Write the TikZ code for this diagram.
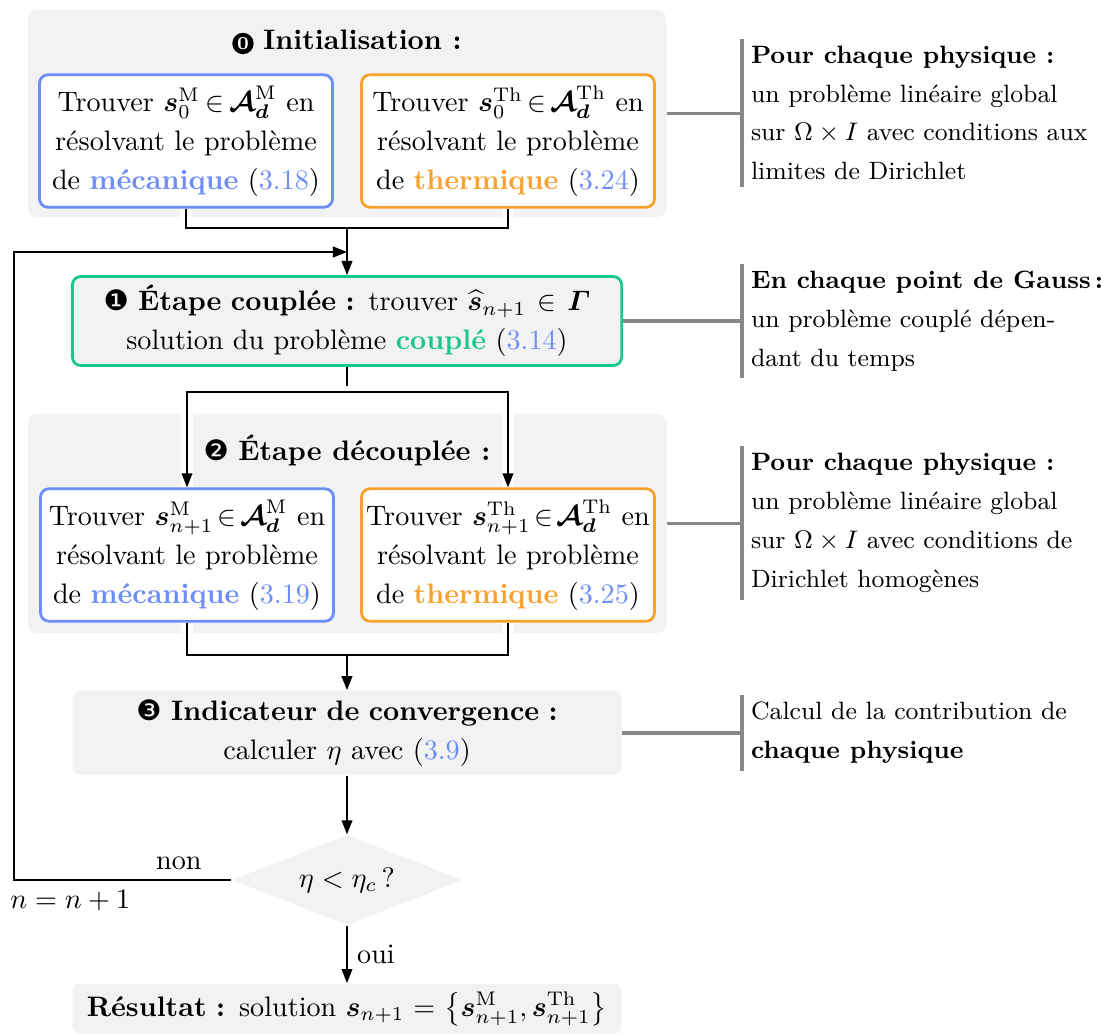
\documentclass[tikz,border=0pt]{standalone}
\usepackage{amsmath,bm}
\usepackage{fontspec}
\newfontfamily\dingfont{DejaVu Sans}
\usetikzlibrary{shapes.geometric, arrows, arrows.meta, positioning, fit}

\definecolor{mecablue}{HTML}{6E8EF7}
\definecolor{thermorange}{HTML}{F9A12E}
\definecolor{coupgreen}{HTML}{1BC78F}
\definecolor{bggray}{HTML}{F2F2F2}
\definecolor{notegray}{HTML}{888888}

\newcommand{\svec}{\bm{s}}
\newcommand{\Adm}{\bm{\mathcal{A}}_{\bm{d}}}
\newcommand{\inn}{\mkern-3mu\in\mkern-3mu}
\newcommand{\eqnum}[1]{(\textcolor{mecablue}{#1})}
\newcommand{\negzero}{\tikz[baseline=(zero.base)]\node[circle, fill=black, text=white,
  inner sep=0pt, minimum size=7.6pt, font=\fontsize{6.5}{6.5}\selectfont\bfseries] (zero) {0};}

\begin{document}
\begin{tikzpicture}[x=0.355pt, y=-0.355pt,
  panel/.style={fill=bggray, rounded corners=3pt, inner sep=0pt},
  task/.style={draw, line width=1pt, fill=white, rounded corners=3pt,
    minimum width=104pt, minimum height=47pt, text width=102pt, inner sep=0pt,
    align=center, font=\linespread{1.15}\selectfont},
  mecabox/.style={task, draw=mecablue},
  thermbox/.style={task, draw=thermorange},
  wide/.style={fill=bggray, rounded corners=3pt, minimum width=195pt, text width=190pt,
    inner sep=0pt, align=center, font=\linespread{1.15}\selectfont},
  note/.style={anchor=west, align=left, inner xsep=3pt, inner ysep=2.4pt,
    font=\fontsize{8.9pt}{13.8pt}\selectfont},
  bar/.style={draw=notegray, line width=1.4pt},
  link/.style={semithick},
  halo/.style={draw=white, line width=4pt},
  >={Triangle[length=5pt, width=3.8pt]}]

  \useasboundingbox (0,0) rectangle (1115,1034);

  % step 0
  \node[panel, fit={(28,10) (666,217)}] (init) {};
  \node (inittitle) at (347,42) {\negzero~\textbf{Initialisation :}};
  \node[mecabox] (meca0) at (186,141)
    {Trouver $\svec_0^{\mathrm{M}} \inn \Adm^{\mathrm{M}}$ en\\ résolvant le problème\\
     de \textbf{\textcolor{mecablue}{mécanique}} \eqnum{3.18}};
  \node[thermbox] (therm0) at (508,141)
    {Trouver $\svec_0^{\mathrm{Th}} \inn \Adm^{\mathrm{Th}}$ en\\ résolvant le problème\\
     de \textbf{\textcolor{thermorange}{thermique}} \eqnum{3.24}};
  \coordinate (join0) at (347,228);
  \coordinate (back) at (14,252);

  % step 1
  \node[wide, draw=coupgreen, line width=1pt, minimum height=31.6pt] (coupled) at (347,321)
    {{\dingfont ❶}~\textbf{Étape couplée :} trouver $\widehat{\svec}_{n+1} \in \bm{\varGamma}$\\
     solution du problème \textbf{\textcolor{coupgreen}{couplé}} \eqnum{3.14}};
  \coordinate (split) at (347,392);

  % step 2
  \node[panel, fit={(28,414) (666,633)}] (decoup) {};
  \node (decouptitle) at (347,450) {{\dingfont ❷}~\textbf{Étape découplée :}};
  \node[mecabox] (meca1) at (187,555)
    {Trouver $\svec_{n+1}^{\mathrm{M}} \inn \Adm^{\mathrm{M}}$ en\\ résolvant le problème\\
     de \textbf{\textcolor{mecablue}{mécanique}} \eqnum{3.19}};
  \node[thermbox] (therm1) at (508,555)
    {Trouver $\svec_{n+1}^{\mathrm{Th}} \inn \Adm^{\mathrm{Th}}$ en\\ résolvant le problème\\
     de \textbf{\textcolor{thermorange}{thermique}} \eqnum{3.25}};
  \coordinate (join1) at (347,655);

  % step 3
  \node[wide, minimum height=30pt] (indic) at (347,733)
    {{\dingfont ❸}~\textbf{Indicateur de convergence :}\\ calculer $\eta$ avec \eqnum{3.9}};
  \node[diamond, aspect=2.6, fill=bggray, minimum width=82pt, minimum height=32pt, inner sep=0pt]
    (test) at (347,880) {$\eta < \eta_c\,?$};
  \node[wide, minimum height=18pt] (result) at (347,1009)
    {\textbf{Résultat :} solution $\svec_{n+1} = \bigl\{\svec_{n+1}^{\mathrm{M}}, \svec_{n+1}^{\mathrm{Th}}\bigr\}$};

  % notes
  \node[note] (note0) at (742,113)
    {\textbf{Pour chaque physique :}\\ un problème linéaire global\\
     sur $\Omega \times I$ avec conditions aux\\ limites de Dirichlet};
  \node[note] (note1) at (742,321)
    {\textbf{En chaque point de Gauss\,:}\\ un problème couplé dépen-\\ dant du temps};
  \node[note] (note2) at (742,523)
    {\textbf{Pour chaque physique :}\\ un problème linéaire global\\
     sur $\Omega \times I$ avec conditions de\\ Dirichlet homogènes};
  \node[note] (note3) at (742,733)
    {Calcul de la contribution de\\ \textbf{chaque physique}};

  \foreach \nt/\src in {note0/init, note1/coupled, note2/decoup, note3/indic}{
    \draw[bar] (\nt.north west) -- (\nt.south west);
    \draw[bar] (\src.east) -- (\src.east -| \nt.west);
  }

  % connectors
  \draw[halo] (meca0.south) |- (join0) -| (therm0.south);
  \draw[link] (meca0.south) |- (join0) -| (therm0.south);
  \draw[link, ->] (join0) -- (coupled.north);
  \draw[link, ->] (test.west) -| (back)
    node[pos=.12, above] (non) {non}
    node[pos=.37, below] (incr) {$n = n+1$}
    -- (back -| join0);
  \draw[link] (coupled.south) -- (split);
  \draw[halo] (split) -| (meca1.north);
  \draw[halo] (split) -| (therm1.north);
  \draw[link, ->] (split) -| (meca1.north);
  \draw[link, ->] (split) -| (therm1.north);
  \draw[halo] (meca1.south) |- (join1) -| (therm1.south);
  \draw[link] (meca1.south) |- (join1) -| (therm1.south);
  \draw[link, ->] (join1) -- (indic.north);
  \draw[link, ->] (indic.south) -- (test.north);
  \draw[link, ->] (test.south) -- node[right] (oui) {oui} (result.north);
\end{tikzpicture}
\end{document}
